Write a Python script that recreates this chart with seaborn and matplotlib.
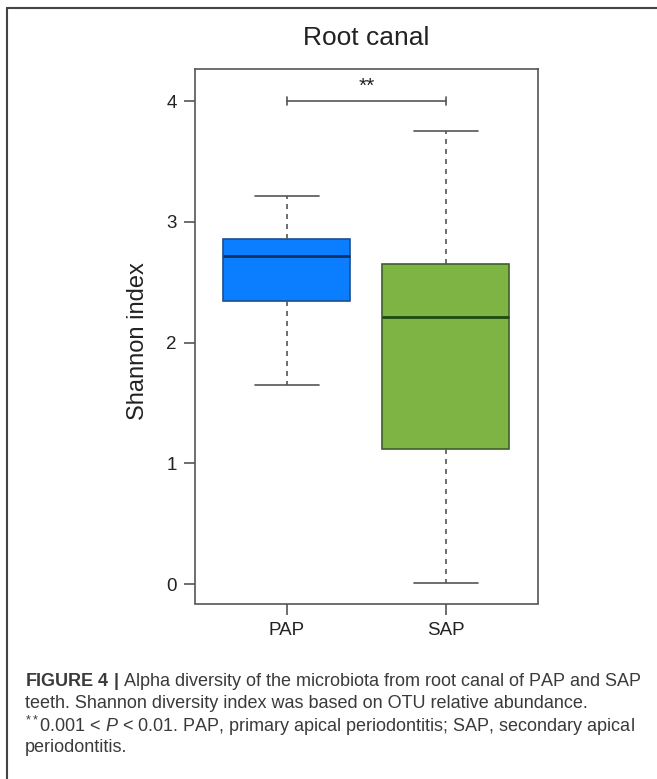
import matplotlib
matplotlib.use("Agg")
import matplotlib.pyplot as plt
from matplotlib.lines import Line2D
import numpy as np
import pandas as pd
import seaborn as sns

# values: lower whisker, Q1, median, Q3, upper whisker
groups = ["PAP", "SAP"]
pap_values = [1.65, 2.34, 2.72, 2.86, 3.21]
sap_values = [0.01, 1.12, 2.21, 2.65, 3.75]
box_colors = ["#0B7DFF", "#7DB443"]
edge_colors = ["#1B4F8F", "#3F5E2C"]
median_colors = ["#14305C", "#1D4A12"]
y_ticks = [0, 1, 2, 3, 4]
sig_level = 4.0
sig_label = "**"

caption_lines = [
    r"$\mathbf{FIGURE\ 4\ |}$ Alpha diversity of the microbiota from root canal of PAP and SAP",
    "teeth. Shannon diversity index was based on OTU relative abundance.",
    r"$^{**}$0.001 < $\mathit{P}$ < 0.01. PAP, primary apical periodontitis; SAP, secondary apical",
    "periodontitis.",
]

df = pd.DataFrame({
    "group": ["PAP"] * len(pap_values) + ["SAP"] * len(sap_values),
    "shannon": pap_values + sap_values,
})

sns.set_style("ticks")
plt.rcParams["font.family"] = ["Liberation Sans", "DejaVu Sans"]
plt.rcParams["mathtext.fontset"] = "custom"
plt.rcParams["mathtext.rm"] = "Liberation Sans"
plt.rcParams["mathtext.it"] = "Liberation Sans:italic"
plt.rcParams["mathtext.bf"] = "Liberation Sans:bold"

W, H = 657, 779
fig = plt.figure(figsize=(W / 100, H / 100), dpi=100)
ax = fig.add_axes([195 / W, 1 - 603.5 / H, (538 - 195) / W, (603.5 - 69) / H])

grey = "#555555"
sns.boxplot(data=df, x="group", y="shannon", hue="group", order=groups, hue_order=groups,
            palette=box_colors, saturation=1, width=0.8, whis=1.5, linewidth=1.2,
            linecolor=grey, showfliers=False, legend=False,
            whiskerprops=dict(linestyle=(0, (3, 3))), ax=ax)

# recolor box edges and medians per group
for patch in ax.patches:
    xc = patch.get_path().vertices[:, 0].mean()
    i = 0 if xc < 0.5 else 1
    patch.set_edgecolor(edge_colors[i])
for line in ax.lines:
    xd = np.asarray(line.get_xdata(), dtype=float)
    if xd.size == 2 and abs(xd[1] - xd[0]) > 0.6:
        i = 0 if xd.mean() < 0.5 else 1
        line.set_color(median_colors[i])
        line.set_linewidth(2)

ax.set_xlim(-0.578, 1.58)
ax.set_ylim(-0.161, 4.265)
ax.set_yticks(y_ticks)
ax.set_xlabel("")
ax.set_ylabel("")
for sp in ax.spines.values():
    sp.set_visible(True)
    sp.set_color(grey)
    sp.set_linewidth(1.2)
ax.tick_params(length=8, width=1.2, color=grey, labelsize=13.5, labelcolor="#222222", pad=5)

# significance bracket
ax.plot([0, 1], [sig_level, sig_level], color=grey, lw=1.2)
for xi in (0, 1):
    ax.plot([xi, xi], [sig_level - 0.03, sig_level + 0.03], color=grey, lw=1.2)
ax.text(0.5, sig_level + 0.12, sig_label, ha="center", va="center", fontsize=15, color="#222222")

fig.text(366 / W, 1 - 38 / H, "Root canal", ha="center", va="center", fontsize=19, color="#222222")
fig.text(138 / W, 1 - 341 / H, "Shannon index", rotation=90, ha="center", va="center",
         fontsize=17, color="#222222")

# caption
for k, txt in enumerate(caption_lines):
    fig.text(25 / W, 1 - (682 + 22 * k) / H, txt, ha="left", va="center",
             fontsize=13, color="#3a3a3a")

# frame around the panel (top and left edges)
fig.add_artist(Line2D([7 / W, 1], [1 - 8 / H, 1 - 8 / H], transform=fig.transFigure,
                      color="#444444", lw=1.5))
fig.add_artist(Line2D([7 / W, 7 / W], [0, 1 - 8 / H], transform=fig.transFigure,
                      color="#444444", lw=1.5))

fig.savefig("out.png", dpi=100)
